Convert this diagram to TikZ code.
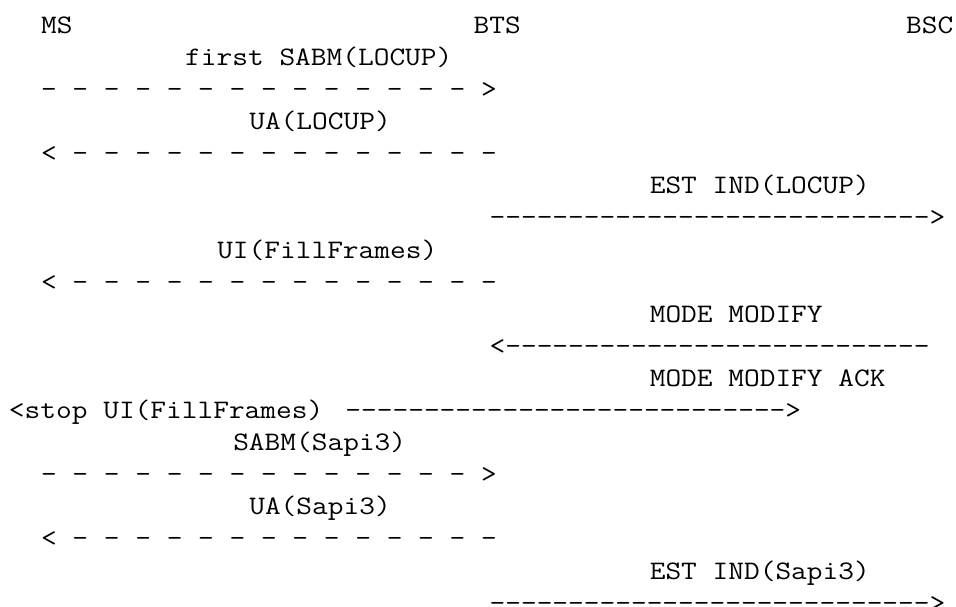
\documentclass[tikz,border=0pt]{standalone}
\usepackage{fontspec}
\setmonofont{Latin Modern Mono}[FakeStretch=1.1429]
\usetikzlibrary{positioning}
\tikzset{
  ascii/.style={anchor=base west, inner sep=0pt, outer sep=0pt,
    font=\ttfamily\fontsize{26.7pt}{32.1pt}\selectfont}
}
\begin{document}
\begin{tikzpicture}
  \useasboundingbox (0pt,0pt) rectangle (956pt,-606pt);
  % one unit = one character cell, one row = one text line
  \begin{scope}[shift={(9pt,-33.3pt)}, x=16.02pt, y=-32.1pt]
    \node[ascii] (ms)  at (2,0)  {MS};
    \node[ascii] (bts) at (29,0) {BTS};
    \node[ascii] (bsc) at (56,0) {BSC};
    \node[ascii] (sabmlocup) at (11,1) {first SABM(LOCUP)};
    \node[ascii] (sabmlocuparr) at (2,2) {- - - - - - - - - - - - - - >};
    \node[ascii] (ualocup) at (15,3) {UA(LOCUP)};
    \node[ascii] (ualocuparr) at (2,4) {< - - - - - - - - - - - - - -};
    \node[ascii] (estlocup) at (40,5) {EST IND(LOCUP)};
    \node[ascii] (estlocuparr) at (30,6) {---------------------------->};
    \node[ascii] (uifill) at (13,7) {UI(FillFrames)};
    \node[ascii] (uifillarr) at (2,8) {< - - - - - - - - - - - - - -};
    \node[ascii] (modemod) at (40,9) {MODE MODIFY};
    \node[ascii] (modemodarr) at (30,10) {<---------------------------};
    \node[ascii] (modeack) at (40,11) {MODE MODIFY ACK};
    \node[ascii] (stopui) at (0,12) {<stop UI(FillFrames)};
    \node[ascii] (modeackarr) at (21,12) {---------------------------->};
    \node[ascii] (sabmsapi) at (14,13) {SABM(Sapi3)};
    \node[ascii] (sabmsapiarr) at (2,14) {- - - - - - - - - - - - - - >};
    \node[ascii] (uasapi) at (15,15) {UA(Sapi3)};
    \node[ascii] (uasapiarr) at (2,16) {< - - - - - - - - - - - - - -};
    \node[ascii] (estsapi) at (40,17) {EST IND(Sapi3)};
    \node[ascii] (estsapiarr) at (30,18) {---------------------------->};
  \end{scope}
\end{tikzpicture}
\end{document}
